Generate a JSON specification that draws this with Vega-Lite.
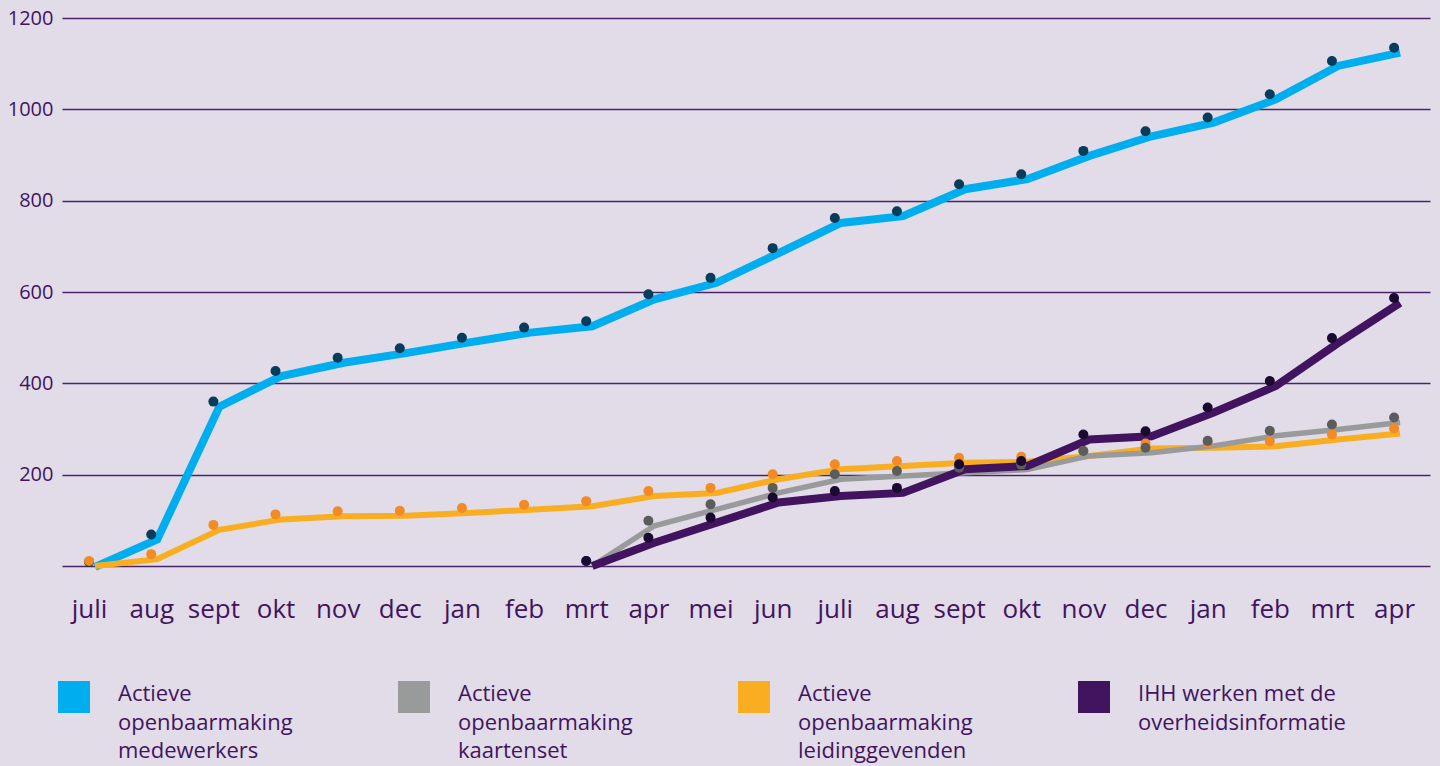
{
  "$schema": "https://vega.github.io/schema/vega-lite/v6.json",
  "width": 1368,
  "height": 548,
  "autosize": {"type": "none"},
  "padding": {"left": 62, "top": 18, "right": 10, "bottom": 200},
  "background": "#e1dce8",
  "config": {
    "view": {"stroke": null},
    "font": "Open Sans",
    "style": {"guide-label": {"lineHeight": 28.5}}
  },
  "datasets": {
    "reeksen": [
      {"periode": "juli-1", "reeks": "Actieve openbaarmaking medewerkers", "waarde": 9},
      {"periode": "aug-1", "reeks": "Actieve openbaarmaking medewerkers", "waarde": 69},
      {"periode": "sept-1", "reeks": "Actieve openbaarmaking medewerkers", "waarde": 360},
      {"periode": "okt-1", "reeks": "Actieve openbaarmaking medewerkers", "waarde": 427},
      {"periode": "nov-1", "reeks": "Actieve openbaarmaking medewerkers", "waarde": 456},
      {"periode": "dec-1", "reeks": "Actieve openbaarmaking medewerkers", "waarde": 477},
      {"periode": "jan-1", "reeks": "Actieve openbaarmaking medewerkers", "waarde": 500},
      {"periode": "feb-1", "reeks": "Actieve openbaarmaking medewerkers", "waarde": 522},
      {"periode": "mrt-1", "reeks": "Actieve openbaarmaking medewerkers", "waarde": 536},
      {"periode": "apr-1", "reeks": "Actieve openbaarmaking medewerkers", "waarde": 595},
      {"periode": "mei-1", "reeks": "Actieve openbaarmaking medewerkers", "waarde": 631},
      {"periode": "jun-1", "reeks": "Actieve openbaarmaking medewerkers", "waarde": 696},
      {"periode": "juli-2", "reeks": "Actieve openbaarmaking medewerkers", "waarde": 762},
      {"periode": "aug-2", "reeks": "Actieve openbaarmaking medewerkers", "waarde": 777},
      {"periode": "sept-2", "reeks": "Actieve openbaarmaking medewerkers", "waarde": 836},
      {"periode": "okt-2", "reeks": "Actieve openbaarmaking medewerkers", "waarde": 858},
      {"periode": "nov-2", "reeks": "Actieve openbaarmaking medewerkers", "waarde": 909},
      {"periode": "dec-2", "reeks": "Actieve openbaarmaking medewerkers", "waarde": 952},
      {"periode": "jan-2", "reeks": "Actieve openbaarmaking medewerkers", "waarde": 982},
      {"periode": "feb-2", "reeks": "Actieve openbaarmaking medewerkers", "waarde": 1033},
      {"periode": "mrt-2", "reeks": "Actieve openbaarmaking medewerkers", "waarde": 1106},
      {"periode": "apr-2", "reeks": "Actieve openbaarmaking medewerkers", "waarde": 1135},

      {"periode": "juli-1", "reeks": "Actieve openbaarmaking leidinggevenden", "waarde": 11},
      {"periode": "aug-1", "reeks": "Actieve openbaarmaking leidinggevenden", "waarde": 26},
      {"periode": "sept-1", "reeks": "Actieve openbaarmaking leidinggevenden", "waarde": 90},
      {"periode": "okt-1", "reeks": "Actieve openbaarmaking leidinggevenden", "waarde": 113},
      {"periode": "nov-1", "reeks": "Actieve openbaarmaking leidinggevenden", "waarde": 120},
      {"periode": "dec-1", "reeks": "Actieve openbaarmaking leidinggevenden", "waarde": 121},
      {"periode": "jan-1", "reeks": "Actieve openbaarmaking leidinggevenden", "waarde": 127},
      {"periode": "feb-1", "reeks": "Actieve openbaarmaking leidinggevenden", "waarde": 134},
      {"periode": "mrt-1", "reeks": "Actieve openbaarmaking leidinggevenden", "waarde": 142},
      {"periode": "apr-1", "reeks": "Actieve openbaarmaking leidinggevenden", "waarde": 164},
      {"periode": "mei-1", "reeks": "Actieve openbaarmaking leidinggevenden", "waarde": 171},
      {"periode": "jun-1", "reeks": "Actieve openbaarmaking leidinggevenden", "waarde": 201},
      {"periode": "juli-2", "reeks": "Actieve openbaarmaking leidinggevenden", "waarde": 223},
      {"periode": "aug-2", "reeks": "Actieve openbaarmaking leidinggevenden", "waarde": 230},
      {"periode": "sept-2", "reeks": "Actieve openbaarmaking leidinggevenden", "waarde": 237},
      {"periode": "okt-2", "reeks": "Actieve openbaarmaking leidinggevenden", "waarde": 239},
      {"periode": "nov-2", "reeks": "Actieve openbaarmaking leidinggevenden", "waarde": 252},
      {"periode": "dec-2", "reeks": "Actieve openbaarmaking leidinggevenden", "waarde": 268},
      {"periode": "jan-2", "reeks": "Actieve openbaarmaking leidinggevenden", "waarde": 270},
      {"periode": "feb-2", "reeks": "Actieve openbaarmaking leidinggevenden", "waarde": 273},
      {"periode": "mrt-2", "reeks": "Actieve openbaarmaking leidinggevenden", "waarde": 288},
      {"periode": "apr-2", "reeks": "Actieve openbaarmaking leidinggevenden", "waarde": 301},

      {"periode": "mrt-1", "reeks": "Actieve openbaarmaking kaartenset", "waarde": 11},
      {"periode": "apr-1", "reeks": "Actieve openbaarmaking kaartenset", "waarde": 99},
      {"periode": "mei-1", "reeks": "Actieve openbaarmaking kaartenset", "waarde": 135},
      {"periode": "jun-1", "reeks": "Actieve openbaarmaking kaartenset", "waarde": 171},
      {"periode": "juli-2", "reeks": "Actieve openbaarmaking kaartenset", "waarde": 201},
      {"periode": "aug-2", "reeks": "Actieve openbaarmaking kaartenset", "waarde": 208},
      {"periode": "sept-2", "reeks": "Actieve openbaarmaking kaartenset", "waarde": 215},
      {"periode": "okt-2", "reeks": "Actieve openbaarmaking kaartenset", "waarde": 222},
      {"periode": "nov-2", "reeks": "Actieve openbaarmaking kaartenset", "waarde": 252},
      {"periode": "dec-2", "reeks": "Actieve openbaarmaking kaartenset", "waarde": 259},
      {"periode": "jan-2", "reeks": "Actieve openbaarmaking kaartenset", "waarde": 274},
      {"periode": "feb-2", "reeks": "Actieve openbaarmaking kaartenset", "waarde": 296},
      {"periode": "mrt-2", "reeks": "Actieve openbaarmaking kaartenset", "waarde": 310},
      {"periode": "apr-2", "reeks": "Actieve openbaarmaking kaartenset", "waarde": 325},

      {"periode": "mrt-1", "reeks": "IHH werken met de overheidsinformatie", "waarde": 11},
      {"periode": "apr-1", "reeks": "IHH werken met de overheidsinformatie", "waarde": 62},
      {"periode": "mei-1", "reeks": "IHH werken met de overheidsinformatie", "waarde": 106},
      {"periode": "jun-1", "reeks": "IHH werken met de overheidsinformatie", "waarde": 150},
      {"periode": "juli-2", "reeks": "IHH werken met de overheidsinformatie", "waarde": 164},
      {"periode": "aug-2", "reeks": "IHH werken met de overheidsinformatie", "waarde": 171},
      {"periode": "sept-2", "reeks": "IHH werken met de overheidsinformatie", "waarde": 223},
      {"periode": "okt-2", "reeks": "IHH werken met de overheidsinformatie", "waarde": 230},
      {"periode": "nov-2", "reeks": "IHH werken met de overheidsinformatie", "waarde": 288},
      {"periode": "dec-2", "reeks": "IHH werken met de overheidsinformatie", "waarde": 295},
      {"periode": "jan-2", "reeks": "IHH werken met de overheidsinformatie", "waarde": 347},
      {"periode": "feb-2", "reeks": "IHH werken met de overheidsinformatie", "waarde": 405},
      {"periode": "mrt-2", "reeks": "IHH werken met de overheidsinformatie", "waarde": 499},
      {"periode": "apr-2", "reeks": "IHH werken met de overheidsinformatie", "waarde": 587}
    ]
  },
  "data": {"name": "reeksen"},
  "encoding": {
    "x": {
      "field": "periode",
      "type": "ordinal",
      "scale": {
        "type": "point",
        "padding": 0.507,
        "align": 0.43,
        "domain": ["juli-1", "aug-1", "sept-1", "okt-1", "nov-1", "dec-1", "jan-1", "feb-1", "mrt-1", "apr-1", "mei-1", "jun-1", "juli-2", "aug-2", "sept-2", "okt-2", "nov-2", "dec-2", "jan-2", "feb-2", "mrt-2", "apr-2"]
      },
      "axis": {
        "title": null,
        "domain": false,
        "ticks": false,
        "grid": false,
        "labelAngle": 0,
        "labelExpr": "replace(datum.value, /-\\d$/, '')",
        "labelFont": "Open Sans",
        "labelFontSize": 26,
        "labelColor": "#42145f",
        "labelPadding": 30
      }
    },
    "y": {
      "field": "waarde",
      "type": "quantitative",
      "scale": {"domain": [0, 1200], "nice": false},
      "axis": {
        "title": null,
        "domain": false,
        "ticks": false,
        "values": [0, 200, 400, 600, 800, 1000, 1200],
        "format": "d",
        "labelExpr": "datum.value == 0 ? '' : datum.label",
        "labelFont": "Open Sans",
        "labelFontSize": 20,
        "labelColor": "#42145f",
        "labelPadding": 9,
        "gridColor": "#4a2468",
        "gridWidth": 1.4,
        "gridOpacity": 1
      }
    }
  },
  "layer": [
    {
      "mark": {"type": "square", "opacity": 0, "size": 10},
      "encoding": {
        "color": {
          "field": "reeks",
          "type": "nominal",
          "scale": {
            "domain": ["Actieve openbaarmaking medewerkers", "Actieve openbaarmaking kaartenset", "Actieve openbaarmaking leidinggevenden", "IHH werken met de overheidsinformatie"],
            "range": ["#00aeef", "#999b9b", "#f9ae22", "#42145f"]
          },
          "legend": {
            "title": null,
            "orient": "none",
            "legendX": -4,
            "legendY": 650,
            "direction": "horizontal",
            "columns": 4,
            "columnPadding": 105,
            "symbolType": "M-1,-0.19H1V1.81H-1Z",
            "symbolSize": 1024,
            "symbolStrokeWidth": 0,
            "symbolOpacity": 1,
            "labelOffset": 28,
            "labelLimit": 400,
            "labelFont": "Open Sans",
            "labelFontSize": 22,
            "labelColor": "#42145f",
            "labelBaseline": "top",
            "labelExpr": "datum.label == 'IHH werken met de overheidsinformatie' ? ['IHH werken met de', 'overheidsinformatie', ' '] : datum.label == 'Actieve openbaarmaking medewerkers' ? ['Actieve', 'openbaarmaking', 'medewerkers'] : datum.label == 'Actieve openbaarmaking kaartenset' ? ['Actieve', 'openbaarmaking', 'kaartenset'] : ['Actieve', 'openbaarmaking', 'leidinggevenden']"
          }
        }
      }
    },
    {
      "transform": [{"filter": "datum.reeks == 'Actieve openbaarmaking medewerkers'"}],
      "mark": {"type": "line", "xOffset": 6, "yOffset": 5, "strokeCap": "butt", "strokeWidth": 8, "stroke": "#00aeef"}
    },
    {
      "transform": [{"filter": "datum.reeks == 'Actieve openbaarmaking leidinggevenden'"}],
      "mark": {"type": "line", "xOffset": 6, "yOffset": 5, "strokeCap": "butt", "strokeWidth": 6, "stroke": "#f9ae22"}
    },
    {
      "transform": [{"filter": "datum.reeks == 'Actieve openbaarmaking kaartenset'"}],
      "mark": {"type": "line", "xOffset": 6, "yOffset": 5, "strokeCap": "butt", "strokeWidth": 5.5, "stroke": "#999b9b"}
    },
    {
      "transform": [{"filter": "datum.reeks == 'IHH werken met de overheidsinformatie'"}],
      "mark": {"type": "line", "xOffset": 6, "yOffset": 5, "strokeCap": "butt", "strokeWidth": 8, "stroke": "#42145f"}
    },
    {
      "mark": {"type": "circle", "size": 100, "opacity": 1},
      "encoding": {
        "fill": {
          "field": "reeks",
          "type": "nominal",
          "scale": {
            "domain": ["Actieve openbaarmaking medewerkers", "Actieve openbaarmaking leidinggevenden", "Actieve openbaarmaking kaartenset", "IHH werken met de overheidsinformatie"],
            "range": ["#083c5a", "#f28a26", "#5b5d5d", "#1a0a30"]
          },
          "legend": null
        }
      }
    }
  ]
}
